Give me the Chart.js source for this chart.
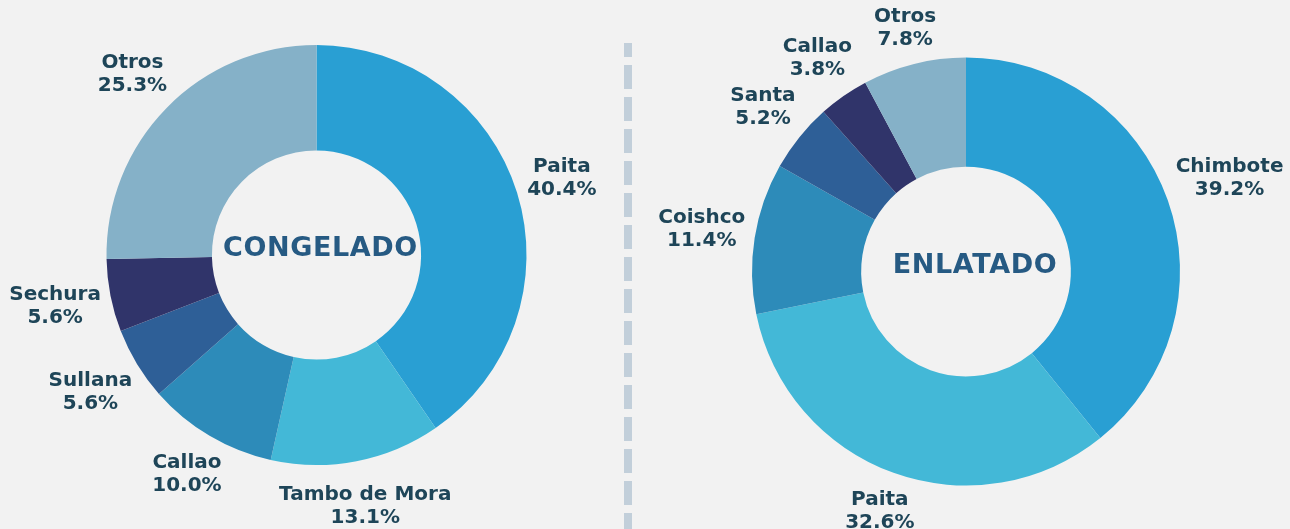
<!DOCTYPE html>
<html>
<head>
<meta charset="utf-8">
<script src="https://cdn.jsdelivr.net/npm/chart.js@4.4.1/dist/chart.umd.min.js"></script>
<style>
  html, body { margin: 0; padding: 0; background: #f2f2f2; }
  body { width: 1290px; height: 529px; position: relative; overflow: hidden; }
  .box { position: absolute; top: 0; height: 529px; }
  #leftBox { left: 0; width: 628px; }
  #rightBox { left: 628px; width: 662px; }
  #divider {
    position: absolute; left: 624px; top: 43px; width: 8px; height: 486px;
    background: repeating-linear-gradient(to bottom, #c2cfda 0px, #c2cfda 24px, transparent 24px, transparent 32px);
    background-position: 0 -10px;
  }
</style>
</head>
<body>
<div id="divider"></div>
<div class="box" id="leftBox"><canvas id="c1"></canvas></div>
<div class="box" id="rightBox"><canvas id="c2"></canvas></div>
<script>
// ---- Data ----
const congeladoTitle = 'CONGELADO';
const congeladoLabels = ['Paita', 'Tambo de Mora', 'Callao', 'Sullana', 'Sechura', 'Otros'];
const congeladoValues = [40.4, 13.1, 10.0, 5.6, 5.6, 25.3];

const enlatadoTitle = 'ENLATADO';
const enlatadoLabels = ['Chimbote', 'Paita', 'Coishco', 'Santa', 'Callao', 'Otros'];
const enlatadoValues = [39.2, 32.6, 11.4, 5.2, 3.8, 7.8];

// ---- Styles ----
const sliceColors = ['#299fd3', '#43b8d7', '#2d8bb9', '#2e5f97', '#30346a', '#85b1c8'];
const labelColor = '#1e4558';
const titleColor = '#265a83';
const FONT = '"DejaVu Sans", sans-serif';

const outsideLabels = {
  id: 'outsideLabels',
  afterDraw(chart, args, opts) {
    const ctx = chart.ctx;
    const meta = chart.getDatasetMeta(0);
    const labels = chart.data.labels;
    const values = chart.data.datasets[0].data;
    const lh = 23;
    ctx.save();
    ctx.font = 'bold 20px ' + FONT;
    ctx.fillStyle = labelColor;
    ctx.textAlign = 'center';
    ctx.textBaseline = 'middle';
    meta.data.forEach((arc, i) => {
      const p = arc.getProps(['x', 'y', 'startAngle', 'endAngle', 'outerRadius'], true);
      const mid = (p.startAngle + p.endAngle) / 2;
      const c = Math.cos(mid), s = Math.sin(mid);
      const name = labels[i];
      const pct = values[i].toFixed(1) + '%';
      const hw = Math.max(ctx.measureText(name).width, ctx.measureText(pct).width) / 2;
      const hh = lh;
      const d = p.outerRadius + opts.base + hw * Math.abs(c) + hh * Math.abs(s);
      const cx = p.x + c * d, cy = p.y + s * d;
      ctx.fillText(name, cx, cy - lh / 2);
      ctx.fillText(pct, cx, cy + lh / 2);
    });
    // center title
    const a0 = meta.data[0];
    ctx.font = 'bold 27px ' + FONT;
    ctx.fillStyle = titleColor;
    try { ctx.letterSpacing = '0.6px'; } catch (e) {}
    ctx.fillText(opts.title, a0.x + opts.tdx, a0.y + opts.tdy);
    ctx.restore();
  }
};

function makeChart(id, labels, values, title, padding, cutout, tdx, tdy) {
  return new Chart(document.getElementById(id), {
    type: 'doughnut',
    data: {
      labels: labels,
      datasets: [{ data: values, backgroundColor: sliceColors, borderWidth: 0 }]
    },
    options: {
      responsive: true,
      maintainAspectRatio: false,
      animation: false,
      cutout: cutout,
      layout: { padding: padding },
      plugins: {
        legend: { display: false },
        tooltip: { enabled: false },
        outsideLabels: { base: 7, title: title, tdx: tdx, tdy: tdy }
      }
    },
    plugins: [outsideLabels]
  });
}

makeChart('c1', congeladoLabels, congeladoValues, congeladoTitle,
  { left: 106.5, right: 101.5, top: 45, bottom: 64 }, '49.8%', 4, -6);
makeChart('c2', enlatadoLabels, enlatadoValues, enlatadoTitle,
  { left: 124, right: 110, top: 57.5, bottom: 43.5 }, '49%', 9, -6);
</script>
</body>
</html>
